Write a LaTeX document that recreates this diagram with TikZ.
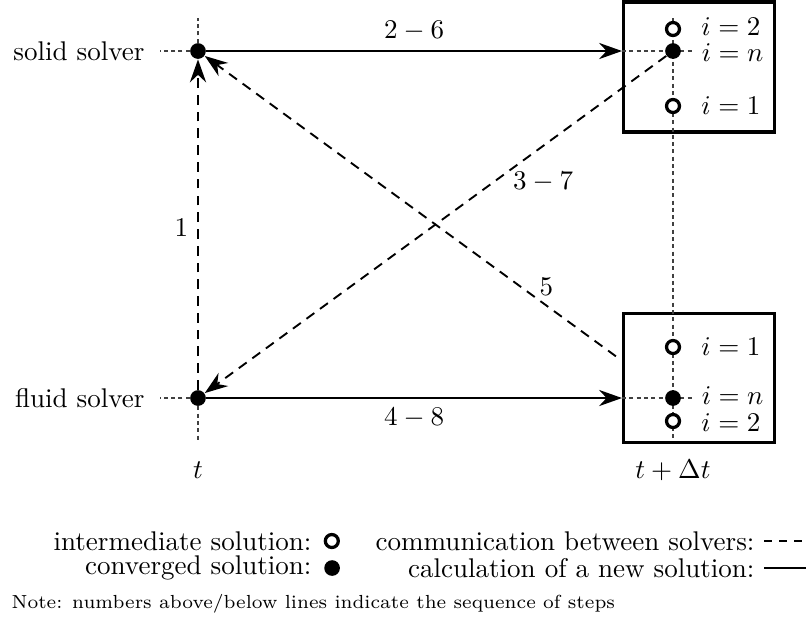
\documentclass[tikz,border=0pt]{standalone}
\usepackage{amsmath,amssymb}
\usepackage{tikz}
\usepackage{xcolor}
\usetikzlibrary{positioning,arrows.meta}

\begin{document}
\begin{tikzpicture}[
      x=0.013cm,y=-0.013cm,
      conv/.style={circle,fill,inner sep=0pt,minimum size=5.8pt},
      inter/.style={circle,draw,fill=white,line width=1.2pt,inner sep=0pt,minimum size=4.8pt},
      box/.style={draw,line width=1.2pt,minimum width=1.96cm},
      guide/.style={dash pattern=on 1.5pt off 1.2pt,thin,black!75},
      calc/.style={-{Stealth[length=8.5pt,width=6pt,inset=2.8pt]},line width=0.7pt},
      comm/.style={-{Stealth[length=8.5pt,width=6pt,inset=2.8pt]},line width=0.7pt,dash pattern=on 3.6pt off 2.6pt}]
    \useasboundingbox (0,0) rectangle (809,619);
    \node[box,minimum height=1.69cm] (sbox) at (699,67) {};
    \node[box,minimum height=1.68cm] (fbox) at (699,378) {};
    \node[conv] (solid) at (198,51) {};
    \node[conv] (fluid) at (198,398) {};
    \node[anchor=east] (solidlbl) at (154,51) {solid solver};
    \node[anchor=east] (fluidlbl) at (154,398) {fluid solver};
    \draw[guide] (solid) -- ++(-38,0);
    \draw[guide] (solid) -- ++(0,-33);
    \draw[guide] (fluid) -- ++(-38,0);
    \draw[guide] (fluid) -- ++(0,42);
    \draw[guide] (673,18) -- (673,438);
    \draw[guide] (sbox.west |- solid) -- ++(70,0);
    \draw[guide] (fbox.west |- fluid) -- ++(70,0);
    \node[inter] (s2) at (673,29) {};
    \node[conv] (sn) at (673,51) {};
    \node[inter] (s1) at (673,106) {};
    \node[inter] (f1) at (673,347) {};
    \node[conv] (fn) at (673,398) {};
    \node[inter] (f2) at (673,421) {};
    \node[right=4pt of s2,yshift=1pt] (s2lbl) {$i=2$};
    \node[right=4pt of sn,yshift=-0.5pt] (snlbl) {$i=n$};
    \node[right=4pt of s1] (s1lbl) {$i=1$};
    \node[right=4pt of f1] (f1lbl) {$i=1$};
    \node[right=4pt of fn,yshift=1pt] (fnlbl) {$i=n$};
    \node[right=4pt of f2,yshift=-0.5pt] (f2lbl) {$i=2$};
    \draw[calc] (solid) -- node[above] {$2-6$} (solid -| sbox.west);
    \draw[calc] (fluid) -- node[below] {$4-8$} (fluid -| fbox.west);
    \draw[comm] (fluid) -- node[left,pos=0.49] {$1$} (solid);
    \draw[comm] (sn) -- node[pos=0.33,below right,xshift=-4pt,yshift=2pt] {$3-7$} (fluid);
    \draw[comm,shorten <=0.81cm] (fn) -- node[pos=0.26,above] {$5$} (solid);
    \node (tnow) at (198,470) {$t$};
    \node (tnext) at (673,470) {$t+\Delta t$};
    \node[anchor=east] (interlbl) at (321,541) {intermediate solution:};
    \node[inter,right=1pt of interlbl] (intermark) {};
    \node[anchor=east] (convlbl) at (321,568) {converged solution:};
    \node[conv,right=1pt of convlbl] (convmark) {};
    \node[anchor=east] (commlbl) at (764,541) {communication between solvers:};
    \node[anchor=east] (calclbl) at (764,568) {calculation of a new solution:};
    \coordinate (commend) at (806,541);
    \coordinate (calcend) at (806,568);
    \draw[line width=0.7pt,dash pattern=on 3pt off 2.6pt] (commlbl.east) -- (commend);
    \draw[line width=0.7pt] (calclbl.east) -- (calcend);
    \node[anchor=west,font=\scriptsize] (note) at (2,604) {Note: numbers above/below lines indicate the sequence of steps};
  \end{tikzpicture}
\end{document}
